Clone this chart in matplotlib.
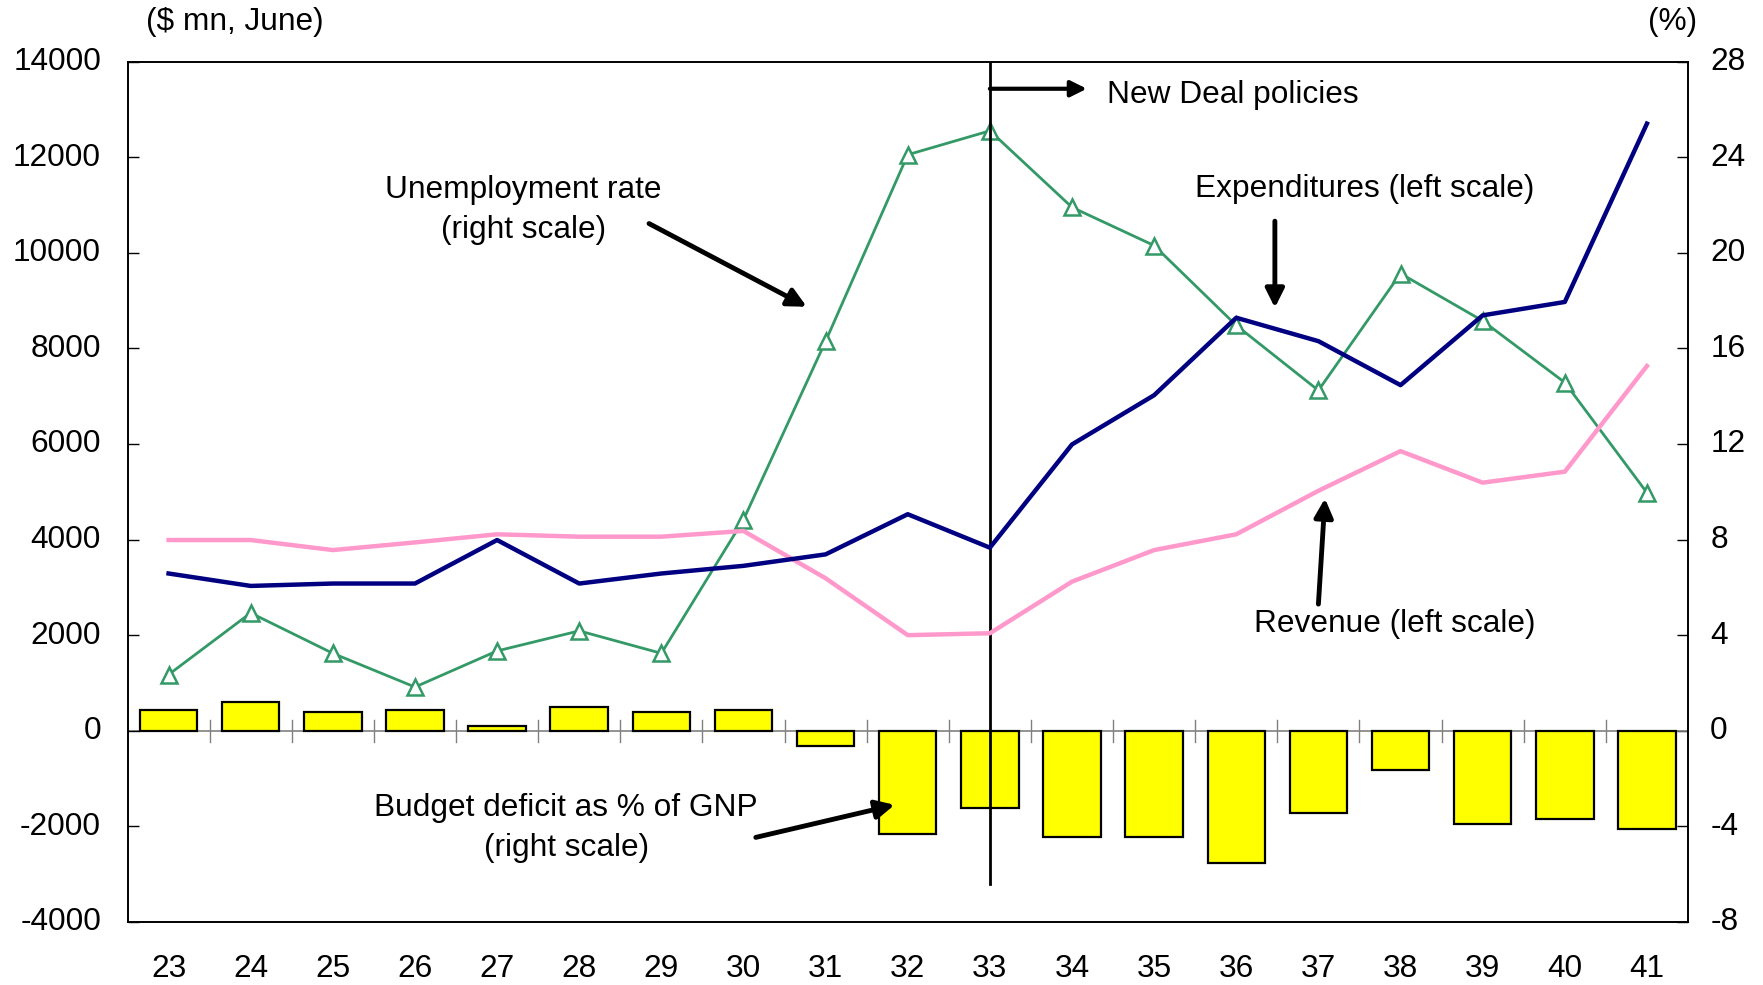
import matplotlib
matplotlib.use("Agg")
import matplotlib.pyplot as plt
import matplotlib.transforms as mtransforms
import numpy as np

plt.rcParams['font.family'] = ['Liberation Sans', 'DejaVu Sans']
plt.rcParams['axes.unicode_minus'] = False

years = ['23', '24', '25', '26', '27', '28', '29', '30', '31', '32',
         '33', '34', '35', '36', '37', '38', '39', '40', '41']
expenditures = [3290, 3030, 3080, 3080, 3990, 3080, 3290, 3450, 3690, 4530,
                3830, 5990, 7020, 8640, 8150, 7230, 8690, 8970, 12700]
revenue = [3990, 3990, 3780, 3940, 4110, 4060, 4060, 4180, 3190, 2000,
           2040, 3120, 3780, 4110, 5020, 5850, 5190, 5420, 7630]
unemployment = [2.35, 4.93, 3.24, 1.83, 3.34, 4.18, 3.24, 8.83, 16.3, 24.1,
                25.1, 21.9, 20.3, 16.96, 14.24, 19.13, 17.15, 14.57, 9.96]
deficit = [0.89, 1.20, 0.78, 0.89, 0.22, 0.99, 0.78, 0.89, -0.63, -4.32,
           -3.23, -4.43, -4.43, -5.52, -3.44, -1.63, -3.90, -3.67, -4.10]
left_ticks = [-4000, -2000, 0, 2000, 4000, 6000, 8000, 10000, 12000, 14000]
right_ticks = [-8, -4, 0, 4, 8, 12, 16, 20, 24, 28]

x = np.arange(len(years))

fig = plt.figure(figsize=(17.63, 9.85), dpi=100)
ax = fig.add_axes([127.5/1763, 1-922/985, (1688-127.5)/1763, (922-61.5)/985])
ax2 = ax.twinx()

FS = 22.8

# bars (right scale)
ax2.bar(x, deficit, width=0.7, color='#FFFF00', edgecolor='black', linewidth=1.6, zorder=3)
ax2.axhline(0, color='#808080', lw=1.2, zorder=2)
for b in np.arange(0.5, len(years) - 1, 1.0):
    ax2.plot([b, b], [-0.45, 0.45], color='#808080', lw=1.0, zorder=2)

# unemployment (right scale)
ax2.plot(x, unemployment, color='#339966', lw=2.0, marker='^', markersize=12,
         markerfacecolor='white', markeredgecolor='#339966', markeredgewidth=1.8, zorder=4)

# expenditure / revenue (left scale)
ax.plot(x, revenue, color='#FF99CC', lw=3.2, zorder=3)
ax.plot(x, expenditures, color='#000080', lw=3.2, zorder=3)

ax.set_xlim(-0.5, len(years) - 0.5)
ax.set_ylim(-4000, 14000)
ax2.set_ylim(-8, 28)
ax.set_yticks(left_ticks)
ax2.set_yticks(right_ticks)
ax.set_xticks(x)
ax.set_xticklabels(years)

ax.tick_params(axis='y', direction='in', length=8, width=1, pad=19, labelsize=FS)
ax2.tick_params(axis='y', direction='in', length=8, width=1, pad=16, labelsize=FS)
ax.tick_params(axis='x', length=0, pad=23, labelsize=FS)
for a in (ax, ax2):
    for s in a.spines.values():
        s.set_linewidth(1.2)
        s.set_color('black')

# shift y tick labels up slightly, as in the reference
up = mtransforms.ScaledTranslation(0, 3/100, fig.dpi_scale_trans)
for lab in ax.get_yticklabels() + ax2.get_yticklabels():
    lab.set_transform(lab.get_transform() + up)

# New Deal vertical line
ax2.plot([10, 10], [28, -6.4], color='black', lw=2.0, zorder=5)

arrow_kw = dict(arrowstyle='-|>', color='black', lw=3.5, mutation_scale=28, shrinkA=0, shrinkB=0)

ax.annotate('', xy=(11.18, 13430), xytext=(10, 13430),
            arrowprops=dict(arrowstyle='-|>', color='black', lw=3.0, mutation_scale=24, shrinkA=0, shrinkB=0))
ax.text(11.42, 13290, 'New Deal policies', fontsize=FS, ha='left', va='center')

ax.text(4.32, 10900, 'Unemployment rate\n(right scale)', fontsize=FS, ha='center', va='center', linespacing=1.45)
ax.annotate('', xy=(7.77, 8870), xytext=(5.85, 10610), arrowprops=arrow_kw)

ax.text(14.56, 11330, 'Expenditures (left scale)', fontsize=FS, ha='center', va='center')
ax.annotate('', xy=(13.47, 8850), xytext=(13.47, 10660), arrowprops=arrow_kw)

ax.text(14.93, 2230, 'Revenue (left scale)', fontsize=FS, ha='center', va='center')
ax.annotate('', xy=(14.08, 4860), xytext=(14.0, 2650), arrowprops=arrow_kw)

ax.text(4.84, -2040, 'Budget deficit as % of GNP\n(right scale)', fontsize=FS, ha='center', va='center', linespacing=1.45)
ax.annotate('', xy=(8.84, -1550), xytext=(7.15, -2230), arrowprops=arrow_kw)

ax.set_zorder(ax2.get_zorder() + 1)
ax.patch.set_visible(False)

fig.text(146/1763, 1-22/985, '($ mn, June)', fontsize=FS, ha='left', va='center')
fig.text(1673/1763, 1-22/985, '(%)', fontsize=FS, ha='center', va='center')

fig.savefig('out.png', dpi=100)
